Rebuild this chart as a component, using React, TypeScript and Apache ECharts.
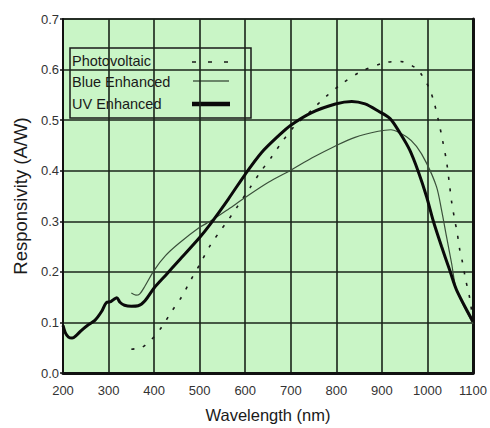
import React, { useEffect, useRef } from "react";
import * as echarts from "echarts";

// Wavelength (nm) / responsivity (A/W) pairs
const uvWavelengths = [200, 205, 212, 220, 230, 240, 255, 270, 285, 295, 305, 312, 318, 325, 335, 350, 365, 380, 400, 425, 454, 500, 523, 563, 600, 636, 673, 700, 746, 798, 834, 863, 892, 918, 940, 961, 980, 998, 1013, 1031, 1049, 1064, 1100];
const uvValues = [0.094, 0.080, 0.071, 0.069, 0.075, 0.084, 0.095, 0.104, 0.122, 0.139, 0.141, 0.146, 0.149, 0.140, 0.134, 0.132, 0.133, 0.143, 0.168, 0.193, 0.222, 0.268, 0.294, 0.344, 0.393, 0.436, 0.469, 0.490, 0.515, 0.532, 0.537, 0.532, 0.518, 0.503, 0.474, 0.441, 0.398, 0.349, 0.300, 0.250, 0.203, 0.164, 0.102];

const blueWavelengths = [350, 360, 368, 380, 400, 425, 454, 500, 523, 563, 600, 651, 700, 746, 798, 841, 892, 920, 954, 976, 998, 1020, 1031, 1042, 1053, 1064, 1100];
const blueValues = [0.158, 0.154, 0.156, 0.172, 0.203, 0.232, 0.256, 0.288, 0.300, 0.324, 0.347, 0.377, 0.401, 0.425, 0.449, 0.466, 0.478, 0.481, 0.467, 0.448, 0.415, 0.368, 0.322, 0.269, 0.217, 0.164, 0.097];

const pvWavelengths = [350, 360, 372, 393, 416, 438, 460, 480, 501, 523, 549, 560, 582, 611, 633, 657, 680, 706, 731, 753, 779, 812, 850, 903, 941, 975, 985, 1004, 1014, 1024, 1033, 1042, 1049, 1053, 1060, 1065, 1071, 1076, 1084, 1093, 1100];
const pvValues = [0.047, 0.048, 0.050, 0.065, 0.090, 0.121, 0.150, 0.183, 0.216, 0.252, 0.286, 0.299, 0.328, 0.367, 0.397, 0.426, 0.456, 0.486, 0.507, 0.526, 0.548, 0.572, 0.594, 0.613, 0.616, 0.603, 0.593, 0.563, 0.537, 0.500, 0.461, 0.418, 0.368, 0.339, 0.302, 0.279, 0.243, 0.223, 0.184, 0.147, 0.101];

const seriesNames = ["Photovoltaic", "Blue Enhanced", "UV Enhanced"];
const xAxisName = "Wavelength (nm)";
const yAxisName = "Responsivity (A/W)";

const pair = (xs: number[], ys: number[]) => xs.map((x, i) => [x, ys[i]]);

const FONT = "Liberation Sans, Arial, sans-serif";
const BG = "#c9f5c6";

export default function App() {
  const ref = useRef<HTMLDivElement>(null);
  useEffect(() => {
    if (!ref.current) return;
    const chart = echarts.init(ref.current, null, { renderer: "svg" });
    chart.setOption({
      animation: false,
      backgroundColor: "#ffffff",
      grid: {
        left: 63,
        right: 17,
        top: 19,
        bottom: 55,
        show: true,
        backgroundColor: BG,
        borderColor: "#1a1a1a",
        borderWidth: 1.5,
      },
      xAxis: {
        type: "value",
        min: 200,
        max: 1100,
        interval: 100,
        name: xAxisName,
        nameLocation: "middle",
        nameGap: 33,
        nameTextStyle: { fontFamily: FONT, fontSize: 16.5, color: "#1a1a1a" },
        axisLine: { show: true, lineStyle: { color: "#111", width: 3 } },
        axisTick: { show: false },
        axisLabel: {
          fontFamily: FONT,
          fontSize: 13,
          color: "#333",
          margin: 11,
          formatter: (v: number) => String(v),
        },
        splitLine: { show: true, lineStyle: { color: "#1a241a", width: 1.6 } },
      },
      yAxis: [
        {
          type: "value",
          min: 0,
          max: 0.7,
          interval: 0.1,
          name: yAxisName,
          nameLocation: "middle",
          nameGap: 30,
          nameTextStyle: { fontFamily: FONT, fontSize: 18.5, color: "#1a1a1a" },
          axisLine: { show: true, lineStyle: { color: "#111", width: 2 } },
          axisTick: { show: true, length: 3, lineStyle: { color: "#111", width: 1.5 } },
          axisLabel: {
            fontFamily: FONT,
            fontSize: 13,
            color: "#333",
            margin: 4,
            formatter: (v: number) => v.toFixed(1),
          },
          splitLine: { show: true, lineStyle: { color: "#1a241a", width: 1.6 } },
        },
        {
          type: "value",
          min: 0,
          max: 0.7,
          interval: 0.1,
          position: "right",
          axisLine: { show: true, lineStyle: { color: "#111", width: 3 } },
          axisTick: { show: false },
          axisLabel: { show: false },
          splitLine: { show: false },
        },
      ],
      series: [
        {
          name: seriesNames[0],
          type: "line",
          data: pair(pvWavelengths, pvValues),
          smooth: 0.3,
          showSymbol: false,
          lineStyle: { color: "#1a1a1a", width: 1.6, type: [3, 9] },
        },
        {
          name: seriesNames[1],
          type: "line",
          data: pair(blueWavelengths, blueValues),
          smooth: 0.3,
          showSymbol: false,
          lineStyle: { color: "#3b503b", width: 1.2 },
        },
        {
          name: seriesNames[2],
          type: "line",
          data: pair(uvWavelengths, uvValues),
          smooth: 0.3,
          showSymbol: false,
          lineStyle: { color: "#0a0a0a", width: 3 },
        },
      ],
      graphic: [
        {
          type: "group",
          z: 100,
          children: [
            {
              type: "rect",
              shape: { x: 70, y: 48, width: 181, height: 70 },
              style: { fill: BG, stroke: "#1a1a1a", lineWidth: 1.5 },
            },
            {
              type: "text",
              x: 72,
              y: 61,
              style: { text: seriesNames[0], font: `14.5px ${FONT}`, fill: "#1a1a1a", verticalAlign: "middle" },
            },
            {
              type: "text",
              x: 72,
              y: 82,
              style: { text: seriesNames[1], font: `14.5px ${FONT}`, fill: "#1a1a1a", verticalAlign: "middle" },
            },
            {
              type: "text",
              x: 72,
              y: 104,
              style: { text: seriesNames[2], font: `14.5px ${FONT}`, fill: "#1a1a1a", verticalAlign: "middle" },
            },
            {
              type: "line",
              shape: { x1: 192, y1: 62, x2: 231, y2: 62 },
              style: { stroke: "#1a1a1a", lineWidth: 1.5, lineDash: [4, 12] },
            },
            {
              type: "line",
              shape: { x1: 193, y1: 81, x2: 229, y2: 81 },
              style: { stroke: "#4a5f4a", lineWidth: 1.3 },
            },
            {
              type: "line",
              shape: { x1: 192, y1: 104, x2: 230, y2: 104 },
              style: { stroke: "#0a0a0a", lineWidth: 4.5 },
            },
          ],
        },
      ],
    });
    return () => chart.dispose();
  }, []);
  return (
    <div
      ref={ref}
      style={{ position: "absolute", left: 0, top: 0, width: 490, height: 428 }}
    />
  );
}
